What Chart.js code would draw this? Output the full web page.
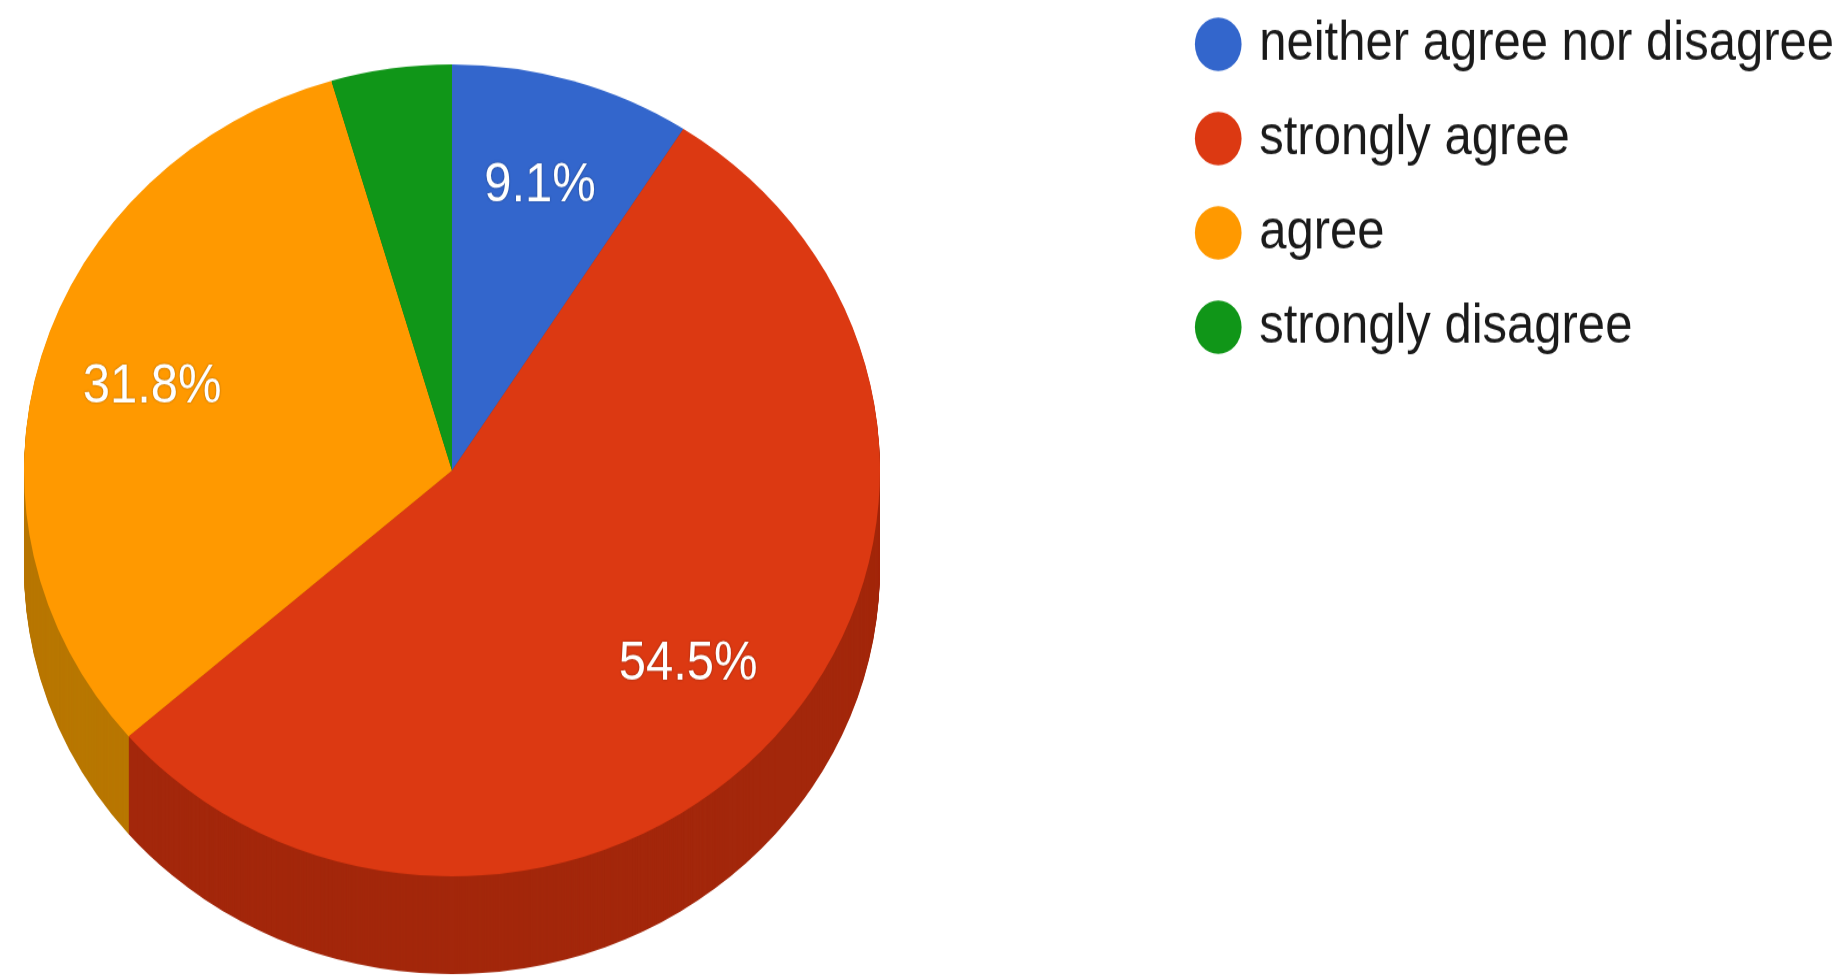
<!DOCTYPE html>
<html>
<head>
<meta charset="utf-8">
<script src="https://cdn.jsdelivr.net/npm/chart.js@4.4.1/dist/chart.umd.min.js"></script>
<style>
  html, body { margin: 0; padding: 0; background: #fff; overflow: hidden; }
  #wrap { width: 1844px; height: 975px; }
  /* the source image is a bit stretched vertically */
  #pie { transform: scaleY(1.15); transform-origin: 0 0; }
</style>
</head>
<body>
<div id="wrap"><canvas id="pie" width="1844" height="848"></canvas></div>
<script>
// answers (counts of respondents)
const labels = ["neither agree nor disagree", "strongly agree", "agree", "strongly disagree"];
const counts = [2, 12, 7, 1];

const topColors = ["#3366cc", "#dc3912", "#ff9900", "#109618"];
const sideColors = ["#264d99", "#a3270b", "#b87700", "#0c7112"];

// where the tilted pie sits on the canvas
const CX = 452, CY = 409, RX = 428, RY = 353, DEPTH = 85;

const total = counts.reduce((a, b) => a + b, 0);

const pie3d = {
  id: "pie3d",
  beforeDatasetsDraw(chart) {
    const ctx = chart.ctx;
    const arcs = chart.getDatasetMeta(0).data;
    const r = arcs[0].outerRadius;
    const sx = RX / r, sy = RY / r;

    const place = (arc, dy) => {
      ctx.save();
      ctx.translate(CX, CY + dy);
      ctx.scale(sx, sy);
      ctx.translate(-arc.x, -arc.y);
      arc.draw(ctx);
      ctx.restore();
    };

    // side of the pie: stack darker copies downwards
    for (let d = DEPTH; d > 0; d--) {
      arcs.forEach((arc, i) => {
        const keep = arc.options.backgroundColor;
        arc.options.backgroundColor = sideColors[i];
        place(arc, d);
        arc.options.backgroundColor = keep;
      });
    }
    // top face
    arcs.forEach((arc) => place(arc, 0));

    // percent labels
    ctx.save();
    ctx.fillStyle = "#fff";
    ctx.font = "49px 'Liberation Sans', Arial, sans-serif";
    ctx.textAlign = "center";
    ctx.textBaseline = "middle";
    ctx.shadowColor = "rgba(0,0,0,0.4)";
    ctx.shadowBlur = 2;
    arcs.forEach((arc, i) => {
      const pct = counts[i] / total * 100;
      if (pct < 5) return;
      const mid = (arc.startAngle + arc.endAngle) / 2;
      const px = CX + Math.cos(mid) * r * 0.73 * sx;
      const py = CY + Math.sin(mid) * r * 0.73 * sy;
      ctx.fillText(pct.toFixed(1) + "%", px, py);
    });
    ctx.restore();
    return false;
  },
};

new Chart(document.getElementById("pie"), {
  type: "pie",
  data: {
    labels: labels,
    datasets: [
      {
        data: counts,
        backgroundColor: topColors,
        borderWidth: 0,
      },
    ],
  },
  options: {
    responsive: false,
    animation: false,
    devicePixelRatio: 1,
    layout: { padding: { top: -19 } },
    plugins: {
      tooltip: { enabled: false },
      legend: {
        position: "right",
        align: "start",
        labels: {
          usePointStyle: true,
          pointStyle: "circle",
          boxWidth: 33,
          boxHeight: 33,
          padding: 33,
          color: "#1a1a1a",
          font: { size: 49, family: "'Liberation Sans', Arial, sans-serif" },
        },
      },
    },
  },
  plugins: [pie3d],
});
</script>
</body>
</html>
